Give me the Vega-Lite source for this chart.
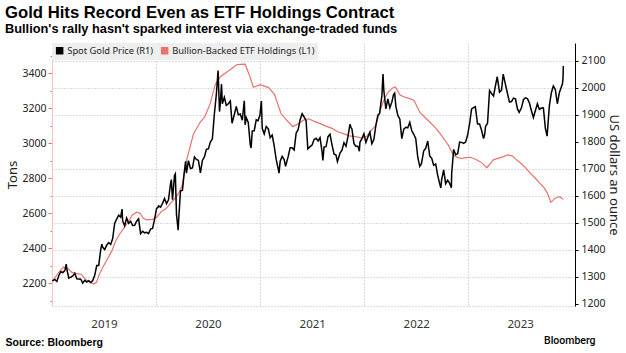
{
  "$schema": "https://vega.github.io/schema/vega-lite/v6.json",
  "width": 523,
  "height": 263,
  "autosize": {"type": "none"},
  "padding": {"left": 52, "top": 43, "right": 51, "bottom": 47},
  "background": "white",
  "config": {"view": {"stroke": null}, "font": "Noto Sans"},
  "title": {
    "text": "Gold Hits Record Even as ETF Holdings Contract",
    "subtitle": "Bullion's rally hasn't sparked interest via exchange-traded funds",
    "anchor": "start",
    "frame": "group",
    "dx": -47,
    "offset": 7,
    "font": "Liberation Sans",
    "fontSize": 16.7,
    "fontWeight": "bold",
    "color": "#000000",
    "subtitleFont": "Liberation Sans",
    "subtitleFontSize": 12.8,
    "subtitleFontWeight": "bold",
    "subtitleColor": "#000000",
    "subtitlePadding": 2
  },
  "datasets": {
    "etf": [
      {"d": "2019-01-01", "v": 2210}, {"d": "2019-01-15", "v": 2240}, {"d": "2019-01-29", "v": 2270},
      {"d": "2019-02-10", "v": 2292}, {"d": "2019-02-25", "v": 2285}, {"d": "2019-03-12", "v": 2262},
      {"d": "2019-03-28", "v": 2255}, {"d": "2019-04-15", "v": 2250}, {"d": "2019-04-28", "v": 2222},
      {"d": "2019-05-14", "v": 2205}, {"d": "2019-05-28", "v": 2196}, {"d": "2019-06-06", "v": 2205},
      {"d": "2019-06-16", "v": 2250}, {"d": "2019-06-28", "v": 2290}, {"d": "2019-07-15", "v": 2340},
      {"d": "2019-07-30", "v": 2385}, {"d": "2019-08-12", "v": 2440}, {"d": "2019-08-26", "v": 2480},
      {"d": "2019-09-10", "v": 2515}, {"d": "2019-09-25", "v": 2550}, {"d": "2019-10-10", "v": 2590},
      {"d": "2019-10-25", "v": 2606}, {"d": "2019-11-06", "v": 2600}, {"d": "2019-11-18", "v": 2570},
      {"d": "2019-12-01", "v": 2562}, {"d": "2019-12-20", "v": 2565}, {"d": "2020-01-05", "v": 2580},
      {"d": "2020-01-20", "v": 2610}, {"d": "2020-02-05", "v": 2625}, {"d": "2020-02-20", "v": 2655},
      {"d": "2020-03-05", "v": 2680}, {"d": "2020-03-20", "v": 2712}, {"d": "2020-04-02", "v": 2760},
      {"d": "2020-04-17", "v": 2900}, {"d": "2020-05-11", "v": 3050}, {"d": "2020-06-04", "v": 3120},
      {"d": "2020-06-20", "v": 3150}, {"d": "2020-07-09", "v": 3225}, {"d": "2020-07-27", "v": 3335},
      {"d": "2020-08-14", "v": 3380}, {"d": "2020-09-17", "v": 3420}, {"d": "2020-10-11", "v": 3450},
      {"d": "2020-11-09", "v": 3452}, {"d": "2020-11-26", "v": 3380}, {"d": "2020-12-08", "v": 3320},
      {"d": "2021-01-01", "v": 3335}, {"d": "2021-01-30", "v": 3318}, {"d": "2021-02-20", "v": 3280},
      {"d": "2021-03-15", "v": 3170}, {"d": "2021-04-05", "v": 3130}, {"d": "2021-04-25", "v": 3095},
      {"d": "2021-05-15", "v": 3112}, {"d": "2021-06-02", "v": 3132}, {"d": "2021-06-20", "v": 3140},
      {"d": "2021-07-10", "v": 3125}, {"d": "2021-07-30", "v": 3112}, {"d": "2021-08-20", "v": 3098},
      {"d": "2021-09-10", "v": 3085}, {"d": "2021-09-30", "v": 3066}, {"d": "2021-10-20", "v": 3055},
      {"d": "2021-11-10", "v": 3042}, {"d": "2021-12-01", "v": 3038}, {"d": "2021-12-25", "v": 3030},
      {"d": "2022-01-10", "v": 3040}, {"d": "2022-01-22", "v": 3066}, {"d": "2022-02-10", "v": 3100},
      {"d": "2022-02-25", "v": 3180}, {"d": "2022-03-09", "v": 3240}, {"d": "2022-03-25", "v": 3290},
      {"d": "2022-04-10", "v": 3315}, {"d": "2022-04-20", "v": 3323}, {"d": "2022-05-07", "v": 3276},
      {"d": "2022-05-24", "v": 3263}, {"d": "2022-06-10", "v": 3255}, {"d": "2022-06-25", "v": 3245},
      {"d": "2022-07-16", "v": 3175}, {"d": "2022-08-01", "v": 3150}, {"d": "2022-08-20", "v": 3120},
      {"d": "2022-09-07", "v": 3091}, {"d": "2022-09-24", "v": 3057}, {"d": "2022-10-10", "v": 3020},
      {"d": "2022-10-25", "v": 2985}, {"d": "2022-11-10", "v": 2933}, {"d": "2022-11-25", "v": 2918},
      {"d": "2022-12-10", "v": 2914}, {"d": "2022-12-25", "v": 2918}, {"d": "2023-01-08", "v": 2920},
      {"d": "2023-01-25", "v": 2910}, {"d": "2023-02-12", "v": 2895}, {"d": "2023-02-25", "v": 2878},
      {"d": "2023-03-07", "v": 2860}, {"d": "2023-03-18", "v": 2880}, {"d": "2023-03-30", "v": 2905},
      {"d": "2023-04-18", "v": 2915}, {"d": "2023-05-05", "v": 2924}, {"d": "2023-05-20", "v": 2933},
      {"d": "2023-06-05", "v": 2928}, {"d": "2023-06-20", "v": 2905}, {"d": "2023-07-05", "v": 2886},
      {"d": "2023-07-20", "v": 2862}, {"d": "2023-08-07", "v": 2829}, {"d": "2023-08-25", "v": 2800},
      {"d": "2023-09-10", "v": 2771}, {"d": "2023-09-25", "v": 2745}, {"d": "2023-10-05", "v": 2718},
      {"d": "2023-10-12", "v": 2690}, {"d": "2023-10-18", "v": 2663}, {"d": "2023-10-25", "v": 2672},
      {"d": "2023-11-02", "v": 2686}, {"d": "2023-11-10", "v": 2690}, {"d": "2023-11-19", "v": 2695},
      {"d": "2023-11-25", "v": 2686}, {"d": "2023-12-01", "v": 2680}
    ],
    "gold": [
      {"d": "2019-01-02", "v": 1284}, {"d": "2019-01-04", "v": 1285}, {"d": "2019-01-11", "v": 1289}, {"d": "2019-01-18", "v": 1282},
      {"d": "2019-01-25", "v": 1304}, {"d": "2019-02-01", "v": 1318}, {"d": "2019-02-08", "v": 1315}, {"d": "2019-02-15", "v": 1322},
      {"d": "2019-02-20", "v": 1346}, {"d": "2019-02-22", "v": 1328}, {"d": "2019-03-01", "v": 1294}, {"d": "2019-03-08", "v": 1298},
      {"d": "2019-03-15", "v": 1302}, {"d": "2019-03-22", "v": 1312}, {"d": "2019-03-29", "v": 1292}, {"d": "2019-04-05", "v": 1291},
      {"d": "2019-04-12", "v": 1290}, {"d": "2019-04-19", "v": 1276}, {"d": "2019-04-26", "v": 1286}, {"d": "2019-05-03", "v": 1280},
      {"d": "2019-05-10", "v": 1285}, {"d": "2019-05-17", "v": 1278}, {"d": "2019-05-24", "v": 1285}, {"d": "2019-05-31", "v": 1305},
      {"d": "2019-06-07", "v": 1341}, {"d": "2019-06-14", "v": 1341}, {"d": "2019-06-21", "v": 1400}, {"d": "2019-06-25", "v": 1420},
      {"d": "2019-06-28", "v": 1409}, {"d": "2019-07-05", "v": 1400}, {"d": "2019-07-12", "v": 1416}, {"d": "2019-07-19", "v": 1426},
      {"d": "2019-07-26", "v": 1419}, {"d": "2019-08-02", "v": 1441}, {"d": "2019-08-09", "v": 1497}, {"d": "2019-08-16", "v": 1513},
      {"d": "2019-08-23", "v": 1527}, {"d": "2019-08-30", "v": 1520}, {"d": "2019-09-04", "v": 1550}, {"d": "2019-09-06", "v": 1507},
      {"d": "2019-09-13", "v": 1488}, {"d": "2019-09-20", "v": 1517}, {"d": "2019-09-27", "v": 1497}, {"d": "2019-10-04", "v": 1505},
      {"d": "2019-10-11", "v": 1489}, {"d": "2019-10-18", "v": 1490}, {"d": "2019-10-25", "v": 1505}, {"d": "2019-11-01", "v": 1514},
      {"d": "2019-11-08", "v": 1459}, {"d": "2019-11-15", "v": 1468}, {"d": "2019-11-22", "v": 1462}, {"d": "2019-11-29", "v": 1464},
      {"d": "2019-12-06", "v": 1459}, {"d": "2019-12-13", "v": 1476}, {"d": "2019-12-20", "v": 1478}, {"d": "2019-12-27", "v": 1511},
      {"d": "2020-01-03", "v": 1552}, {"d": "2020-01-08", "v": 1556}, {"d": "2020-01-10", "v": 1562}, {"d": "2020-01-17", "v": 1557},
      {"d": "2020-01-24", "v": 1571}, {"d": "2020-01-31", "v": 1589}, {"d": "2020-02-07", "v": 1570}, {"d": "2020-02-14", "v": 1584},
      {"d": "2020-02-21", "v": 1643}, {"d": "2020-02-24", "v": 1659}, {"d": "2020-02-28", "v": 1585}, {"d": "2020-03-06", "v": 1674},
      {"d": "2020-03-09", "v": 1680}, {"d": "2020-03-13", "v": 1530}, {"d": "2020-03-19", "v": 1472}, {"d": "2020-03-20", "v": 1498},
      {"d": "2020-03-27", "v": 1617}, {"d": "2020-04-03", "v": 1620}, {"d": "2020-04-09", "v": 1683}, {"d": "2020-04-14", "v": 1727},
      {"d": "2020-04-17", "v": 1683}, {"d": "2020-04-24", "v": 1729}, {"d": "2020-05-01", "v": 1700}, {"d": "2020-05-08", "v": 1702},
      {"d": "2020-05-15", "v": 1743}, {"d": "2020-05-22", "v": 1734}, {"d": "2020-05-29", "v": 1730}, {"d": "2020-06-05", "v": 1684},
      {"d": "2020-06-12", "v": 1730}, {"d": "2020-06-19", "v": 1743}, {"d": "2020-06-26", "v": 1771}, {"d": "2020-07-03", "v": 1773},
      {"d": "2020-07-10", "v": 1798}, {"d": "2020-07-17", "v": 1810}, {"d": "2020-07-24", "v": 1902}, {"d": "2020-07-31", "v": 1975},
      {"d": "2020-08-06", "v": 2063}, {"d": "2020-08-11", "v": 1911}, {"d": "2020-08-14", "v": 1944}, {"d": "2020-08-18", "v": 2013},
      {"d": "2020-08-21", "v": 1940}, {"d": "2020-08-28", "v": 1964}, {"d": "2020-09-04", "v": 1934}, {"d": "2020-09-11", "v": 1940},
      {"d": "2020-09-18", "v": 1950}, {"d": "2020-09-24", "v": 1868}, {"d": "2020-10-02", "v": 1900}, {"d": "2020-10-09", "v": 1930},
      {"d": "2020-10-16", "v": 1899}, {"d": "2020-10-23", "v": 1902}, {"d": "2020-10-30", "v": 1879}, {"d": "2020-11-06", "v": 1951},
      {"d": "2020-11-09", "v": 1862}, {"d": "2020-11-13", "v": 1889}, {"d": "2020-11-20", "v": 1871}, {"d": "2020-11-27", "v": 1788},
      {"d": "2020-11-30", "v": 1776}, {"d": "2020-12-04", "v": 1839}, {"d": "2020-12-11", "v": 1840}, {"d": "2020-12-18", "v": 1881},
      {"d": "2020-12-24", "v": 1877}, {"d": "2020-12-31", "v": 1898}, {"d": "2021-01-05", "v": 1950}, {"d": "2021-01-08", "v": 1849},
      {"d": "2021-01-15", "v": 1828}, {"d": "2021-01-22", "v": 1856}, {"d": "2021-01-29", "v": 1848}, {"d": "2021-02-05", "v": 1814},
      {"d": "2021-02-12", "v": 1824}, {"d": "2021-02-19", "v": 1784}, {"d": "2021-02-26", "v": 1734}, {"d": "2021-03-05", "v": 1700},
      {"d": "2021-03-08", "v": 1683}, {"d": "2021-03-12", "v": 1727}, {"d": "2021-03-19", "v": 1745}, {"d": "2021-03-26", "v": 1733},
      {"d": "2021-03-31", "v": 1708}, {"d": "2021-04-09", "v": 1744}, {"d": "2021-04-16", "v": 1777}, {"d": "2021-04-23", "v": 1777},
      {"d": "2021-04-30", "v": 1769}, {"d": "2021-05-07", "v": 1831}, {"d": "2021-05-14", "v": 1844}, {"d": "2021-05-21", "v": 1881},
      {"d": "2021-05-28", "v": 1903}, {"d": "2021-06-04", "v": 1891}, {"d": "2021-06-11", "v": 1877}, {"d": "2021-06-17", "v": 1773},
      {"d": "2021-06-25", "v": 1781}, {"d": "2021-07-02", "v": 1787}, {"d": "2021-07-09", "v": 1808}, {"d": "2021-07-16", "v": 1812},
      {"d": "2021-07-23", "v": 1802}, {"d": "2021-07-30", "v": 1814}, {"d": "2021-08-06", "v": 1763}, {"d": "2021-08-09", "v": 1730},
      {"d": "2021-08-13", "v": 1780}, {"d": "2021-08-20", "v": 1781}, {"d": "2021-08-27", "v": 1818}, {"d": "2021-09-03", "v": 1827},
      {"d": "2021-09-10", "v": 1788}, {"d": "2021-09-17", "v": 1754}, {"d": "2021-09-24", "v": 1750}, {"d": "2021-09-29", "v": 1726},
      {"d": "2021-10-08", "v": 1757}, {"d": "2021-10-15", "v": 1768}, {"d": "2021-10-22", "v": 1796}, {"d": "2021-10-29", "v": 1783},
      {"d": "2021-11-05", "v": 1818}, {"d": "2021-11-12", "v": 1864}, {"d": "2021-11-16", "v": 1851}, {"d": "2021-11-19", "v": 1846},
      {"d": "2021-11-26", "v": 1792}, {"d": "2021-12-03", "v": 1783}, {"d": "2021-12-10", "v": 1783}, {"d": "2021-12-15", "v": 1764},
      {"d": "2021-12-17", "v": 1798}, {"d": "2021-12-24", "v": 1811}, {"d": "2021-12-31", "v": 1829}, {"d": "2022-01-07", "v": 1797},
      {"d": "2022-01-14", "v": 1817}, {"d": "2022-01-21", "v": 1835}, {"d": "2022-01-28", "v": 1792}, {"d": "2022-02-04", "v": 1808},
      {"d": "2022-02-11", "v": 1860}, {"d": "2022-02-18", "v": 1898}, {"d": "2022-02-24", "v": 1904}, {"d": "2022-03-04", "v": 1970},
      {"d": "2022-03-08", "v": 2050}, {"d": "2022-03-11", "v": 1988}, {"d": "2022-03-18", "v": 1921}, {"d": "2022-03-25", "v": 1958},
      {"d": "2022-04-01", "v": 1925}, {"d": "2022-04-08", "v": 1946}, {"d": "2022-04-14", "v": 1974}, {"d": "2022-04-18", "v": 1979},
      {"d": "2022-04-22", "v": 1931}, {"d": "2022-04-29", "v": 1897}, {"d": "2022-05-06", "v": 1884}, {"d": "2022-05-13", "v": 1811},
      {"d": "2022-05-20", "v": 1846}, {"d": "2022-05-27", "v": 1853}, {"d": "2022-06-03", "v": 1851}, {"d": "2022-06-10", "v": 1871},
      {"d": "2022-06-17", "v": 1840}, {"d": "2022-06-24", "v": 1827}, {"d": "2022-07-01", "v": 1811}, {"d": "2022-07-08", "v": 1742},
      {"d": "2022-07-15", "v": 1708}, {"d": "2022-07-21", "v": 1718}, {"d": "2022-07-29", "v": 1766}, {"d": "2022-08-05", "v": 1775},
      {"d": "2022-08-12", "v": 1802}, {"d": "2022-08-19", "v": 1747}, {"d": "2022-08-26", "v": 1738}, {"d": "2022-09-02", "v": 1712},
      {"d": "2022-09-09", "v": 1717}, {"d": "2022-09-16", "v": 1675}, {"d": "2022-09-23", "v": 1644}, {"d": "2022-09-27", "v": 1628},
      {"d": "2022-09-30", "v": 1660}, {"d": "2022-10-07", "v": 1695}, {"d": "2022-10-14", "v": 1644}, {"d": "2022-10-21", "v": 1657},
      {"d": "2022-10-28", "v": 1645}, {"d": "2022-11-03", "v": 1629}, {"d": "2022-11-04", "v": 1681}, {"d": "2022-11-11", "v": 1771},
      {"d": "2022-11-18", "v": 1751}, {"d": "2022-11-25", "v": 1755}, {"d": "2022-12-02", "v": 1798}, {"d": "2022-12-09", "v": 1797},
      {"d": "2022-12-16", "v": 1793}, {"d": "2022-12-23", "v": 1798}, {"d": "2022-12-30", "v": 1824}, {"d": "2023-01-06", "v": 1866},
      {"d": "2023-01-13", "v": 1921}, {"d": "2023-01-20", "v": 1926}, {"d": "2023-01-26", "v": 1929}, {"d": "2023-02-03", "v": 1865},
      {"d": "2023-02-10", "v": 1865}, {"d": "2023-02-17", "v": 1842}, {"d": "2023-02-24", "v": 1811}, {"d": "2023-02-28", "v": 1827},
      {"d": "2023-03-03", "v": 1856}, {"d": "2023-03-10", "v": 1868}, {"d": "2023-03-17", "v": 1989}, {"d": "2023-03-24", "v": 1978},
      {"d": "2023-03-31", "v": 1969}, {"d": "2023-04-07", "v": 2008}, {"d": "2023-04-13", "v": 2040}, {"d": "2023-04-21", "v": 1983},
      {"d": "2023-04-28", "v": 1990}, {"d": "2023-05-04", "v": 2050}, {"d": "2023-05-12", "v": 2011}, {"d": "2023-05-19", "v": 1978},
      {"d": "2023-05-26", "v": 1946}, {"d": "2023-06-02", "v": 1948}, {"d": "2023-06-09", "v": 1961}, {"d": "2023-06-16", "v": 1958},
      {"d": "2023-06-23", "v": 1921}, {"d": "2023-06-29", "v": 1908}, {"d": "2023-07-07", "v": 1925}, {"d": "2023-07-14", "v": 1955},
      {"d": "2023-07-21", "v": 1962}, {"d": "2023-07-28", "v": 1959}, {"d": "2023-08-04", "v": 1943}, {"d": "2023-08-11", "v": 1914},
      {"d": "2023-08-18", "v": 1889}, {"d": "2023-08-25", "v": 1915}, {"d": "2023-09-01", "v": 1940}, {"d": "2023-09-08", "v": 1919},
      {"d": "2023-09-15", "v": 1924}, {"d": "2023-09-22", "v": 1925}, {"d": "2023-09-29", "v": 1849}, {"d": "2023-10-05", "v": 1820},
      {"d": "2023-10-13", "v": 1932}, {"d": "2023-10-20", "v": 1981}, {"d": "2023-10-27", "v": 2006}, {"d": "2023-11-03", "v": 1992},
      {"d": "2023-11-10", "v": 1940}, {"d": "2023-11-17", "v": 1981}, {"d": "2023-11-24", "v": 2002}, {"d": "2023-11-28", "v": 2014},
      {"d": "2023-11-30", "v": 2036}, {"d": "2023-12-01", "v": 2080}
    ]
  },
  "layer": [
    {
      "data": {"name": "etf"},
      "mark": {"type": "line", "strokeWidth": 1.2},
      "encoding": {
        "x": {
          "field": "d",
          "type": "temporal",
          "scale": {"type": "utc", "domain": [{"year": 2019, "month": 1, "date": 1, "utc": true}, {"year": 2024, "month": 1, "date": 11, "utc": true}]},
          "axis": {
            "orient": "bottom",
            "values": [
              {"year": 2019, "month": 1, "date": 1, "utc": true},
              {"year": 2020, "month": 1, "date": 1, "utc": true},
              {"year": 2021, "month": 1, "date": 1, "utc": true},
              {"year": 2022, "month": 1, "date": 1, "utc": true},
              {"year": 2023, "month": 1, "date": 1, "utc": true}
            ],
            "format": "%Y",
            "labelOffset": 52,
            "labelFlush": false,
            "labelOverlap": false,
            "ticks": false,
            "labelPadding": 12,
            "labelFontSize": 11.5,
            "labelColor": "#333333",
            "grid": true,
            "gridDash": [1, 2],
            "gridColor": "#bbbbbb",
            "domainColor": "#bbbbbb",
            "domainDash": [1, 2],
            "title": "Source: Bloomberg",
            "titleAnchor": "start",
            "titleAlign": "left",
            "titleX": -47,
            "titleY": 39,
            "titleBaseline": "alphabetic",
            "titleFont": "Liberation Sans",
            "titleFontSize": 10.5,
            "titleFontWeight": "bold",
            "titleColor": "#000000"
          }
        },
        "y": {
          "field": "v",
          "type": "quantitative",
          "scale": {"domain": [2070, 3573], "nice": false, "zero": false},
          "axis": {
            "orient": "left",
            "values": [2100, 2200, 2300, 2400, 2500, 2600, 2700, 2800, 2900, 3000, 3100, 3200, 3300, 3400, 3500],
            "labelExpr": "datum.value % 200 === 0 ? datum.label : ''",
            "format": "d",
            "grid": false,
            "tickColor": "#e8736c",
            "tickSize": {"condition": {"test": "datum.value % 200 === 0", "value": 4}, "value": 2},
            "domainColor": "#f3c4c0",
            "labelColor": "#222222",
            "labelFontSize": 10.5,
            "labelPadding": 2,
            "title": "Tons",
            "titleFontSize": 13,
            "titleFontWeight": "normal",
            "titleColor": "#222222",
            "titlePadding": 2
          }
        },
        "color": {
          "datum": "Bullion-Backed ETF Holdings (L1)",
          "scale": {"domain": ["Spot Gold Price (R1)", "Bullion-Backed ETF Holdings (L1)"], "range": ["#000000", "#e8736c"]},
          "legend": {
            "orient": "top-left",
            "offset": 0,
            "direction": "horizontal",
            "title": null,
            "symbolType": "square",
            "symbolSize": 36,
            "labelFontSize": 9.3,
            "labelFont": "Noto Sans",
            "labelColor": "#222222",
            "labelOffset": 3,
            "padding": 3,
            "fillColor": "#eeeeee",
            "columnPadding": 4,
            "encode": {"symbols": {"update": {"fill": {"scale": "color", "field": "value"}}}}
          }
        }
      }
    },
    {
      "data": {"name": "gold"},
      "mark": {"type": "line", "strokeWidth": 1.5},
      "encoding": {
        "x": {
          "field": "d",
          "type": "temporal",
          "axis": {
            "orient": "bottom",
            "labels": false,
            "ticks": false,
            "domain": false,
            "grid": false,
            "title": "Bloomberg",
            "titleAnchor": "end",
            "titleAlign": "right",
            "titleX": 543,
            "titleY": 37,
            "titleBaseline": "alphabetic",
            "titleFont": "Roboto",
            "titleFontSize": 10.5,
            "titleFontWeight": 500,
            "titleColor": "#000000"
          }
        },
        "y": {
          "field": "v",
          "type": "quantitative",
          "scale": {"domain": [1191, 2165], "nice": false, "zero": false},
          "axis": {
            "orient": "right",
            "values": [1200, 1300, 1400, 1500, 1600, 1700, 1800, 1900, 2000, 2100],
            "format": "d",
            "grid": true,
            "gridDash": [1, 2],
            "gridColor": "#bbbbbb",
            "gridOpacity": {"condition": {"test": "datum.value === 1800 || datum.value === 1200", "value": 0}, "value": 1},
            "domainColor": "#000000",
            "tickColor": "#000000",
            "tickSize": 3,
            "labelPadding": 3,
            "labelFontSize": 10.5,
            "labelColor": "#222222",
            "title": "US dollars an ounce",
            "titleAngle": 90,
            "titleFontSize": 13,
            "titleFontWeight": "normal",
            "titleColor": "#222222",
            "titlePadding": 1
          }
        },
        "color": {"datum": "Spot Gold Price (R1)"}
      }
    }
  ],
  "resolve": {"scale": {"y": "independent"}, "axis": {"x": "independent"}}
}
